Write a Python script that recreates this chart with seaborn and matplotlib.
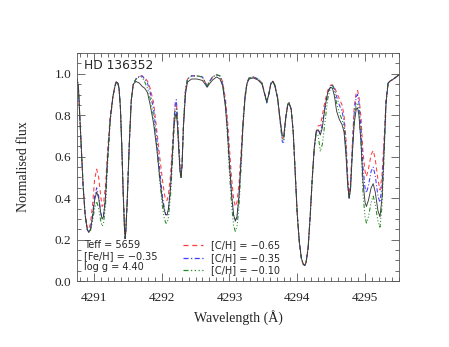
import numpy as np
import pandas as pd
import matplotlib
matplotlib.use('Agg')
import matplotlib.pyplot as plt
import seaborn as sns
from matplotlib.lines import Line2D
from matplotlib.ticker import MultipleLocator, FormatStrFormatter

# wavelength grid (Angstrom) and normalised fluxes
wave = [4290.75, 4290.77, 4290.79, 4290.81, 4290.84, 4290.87, 4290.90, 4290.925,
        4290.95, 4290.98, 4291.01, 4291.04, 4291.07, 4291.10, 4291.12, 4291.14,
        4291.17, 4291.20, 4291.24, 4291.28, 4291.31, 4291.33, 4291.35, 4291.37,
        4291.39, 4291.41, 4291.43, 4291.45, 4291.46, 4291.47, 4291.49,
        # 4291.5 - 4292.05
        4291.52, 4291.55, 4291.58, 4291.62, 4291.67, 4291.71, 4291.75, 4291.79,
        4291.83, 4291.88, 4291.93, 4291.97, 4292.01, 4292.04,
        # 4292.06 - 4292.38
        4292.06, 4292.08, 4292.10, 4292.13, 4292.16, 4292.18, 4292.20, 4292.215,
        4292.23, 4292.25, 4292.27, 4292.285, 4292.30, 4292.32, 4292.35, 4292.38,
        # plateau
        4292.44, 4292.52, 4292.60, 4292.64, 4292.67, 4292.70, 4292.75, 4292.81, 4292.86,
        # 4293.08 line
        4292.90, 4292.94, 4292.97, 4293.00, 4293.03, 4293.06, 4293.085, 4293.11,
        4293.14, 4293.17, 4293.20, 4293.23, 4293.26, 4293.29,
        # 4293.35 - 4293.88
        4293.35, 4293.42, 4293.48, 4293.52, 4293.55, 4293.58, 4293.61, 4293.64,
        4293.67, 4293.71, 4293.75, 4293.78, 4293.80, 4293.83, 4293.86, 4293.88,
        # deep line 4294.11
        4293.91, 4293.94, 4293.97, 4294.00, 4294.03, 4294.06, 4294.09, 4294.11,
        4294.13, 4294.16, 4294.19, 4294.22, 4294.25, 4294.28,
        # 4294.31 - 4294.69
        4294.31, 4294.34, 4294.37, 4294.41, 4294.45, 4294.49, 4294.52, 4294.55,
        4294.58, 4294.62, 4294.66, 4294.69,
        # 4294.77 line
        4294.72, 4294.745, 4294.765, 4294.785, 4294.81, 4294.84, 4294.87, 4294.89,
        4294.91, 4294.94,
        # 4295 blend
        4294.97, 4295.00, 4295.02, 4295.05, 4295.09, 4295.12, 4295.15, 4295.19,
        4295.22, 4295.25, 4295.28, 4295.31, 4295.34, 4295.37, 4295.42, 4295.50]

obs = [0.975, 0.94, 0.80, 0.66, 0.46, 0.32, 0.25, 0.235,
       0.25, 0.31, 0.39, 0.43, 0.40, 0.33, 0.30, 0.31,
       0.40, 0.585, 0.78, 0.89, 0.94, 0.96, 0.958, 0.93,
       0.84, 0.66, 0.44, 0.26, 0.205, 0.24, 0.38,
       0.65, 0.87, 0.95, 0.963, 0.955, 0.94, 0.93, 0.91,
       0.85, 0.76, 0.63, 0.50, 0.39, 0.34,
       0.32, 0.32, 0.35, 0.45, 0.62, 0.74, 0.80, 0.81,
       0.76, 0.64, 0.53, 0.50, 0.56, 0.74, 0.90, 0.96,
       0.975, 0.975, 0.968, 0.95, 0.935, 0.95, 0.97, 0.985, 0.975,
       0.94, 0.84, 0.72, 0.56, 0.42, 0.32, 0.29, 0.31,
       0.41, 0.58, 0.76, 0.89, 0.955, 0.975,
       0.98, 0.97, 0.95, 0.90, 0.867, 0.90, 0.95, 0.963,
       0.94, 0.88, 0.77, 0.70, 0.70, 0.79, 0.85, 0.855,
       0.83, 0.72, 0.52, 0.32, 0.19, 0.11, 0.08, 0.075,
       0.09, 0.16, 0.31, 0.49, 0.64, 0.725,
       0.73, 0.705, 0.74, 0.84, 0.91, 0.935, 0.93, 0.89,
       0.82, 0.78, 0.755, 0.72,
       0.60, 0.46, 0.40, 0.44, 0.60, 0.76, 0.83, 0.835,
       0.80, 0.67,
       0.48, 0.38, 0.36, 0.39, 0.45, 0.47, 0.43, 0.34,
       0.31, 0.40, 0.62, 0.86, 0.955, 0.965, 0.975, 0.995]

ch_065 = [0.975, 0.94, 0.80, 0.66, 0.46, 0.32, 0.26, 0.25,
          0.28, 0.37, 0.49, 0.54, 0.50, 0.41, 0.36, 0.37,
          0.46, 0.62, 0.80, 0.89, 0.945, 0.965, 0.96, 0.93,
          0.84, 0.66, 0.44, 0.26, 0.205, 0.24, 0.38,
          0.65, 0.87, 0.95, 0.975, 0.988, 0.99, 0.98, 0.965,
          0.93, 0.86, 0.72, 0.60, 0.49, 0.42,
          0.39, 0.39, 0.42, 0.51, 0.66, 0.78, 0.85, 0.86,
          0.80, 0.67, 0.55, 0.50, 0.56, 0.75, 0.92, 0.975,
          0.99, 0.99, 0.985, 0.96, 0.94, 0.96, 0.985, 0.995, 0.99,
          0.96, 0.88, 0.78, 0.64, 0.50, 0.40, 0.36, 0.38,
          0.47, 0.62, 0.78, 0.90, 0.96, 0.98,
          0.985, 0.975, 0.955, 0.905, 0.867, 0.905, 0.955, 0.965,
          0.945, 0.885, 0.77, 0.69, 0.69, 0.79, 0.855, 0.86,
          0.83, 0.72, 0.52, 0.32, 0.19, 0.11, 0.08, 0.075,
          0.09, 0.16, 0.31, 0.49, 0.64, 0.72,
          0.75, 0.75, 0.80, 0.87, 0.92, 0.945, 0.947, 0.935,
          0.91, 0.88, 0.85, 0.80,
          0.68, 0.50, 0.42, 0.47, 0.65, 0.84, 0.91, 0.92,
          0.89, 0.79,
          0.62, 0.53, 0.505, 0.54, 0.61, 0.63, 0.59, 0.49,
          0.44, 0.51, 0.68, 0.88, 0.955, 0.965, 0.975, 0.995]

ch_035 = [0.975, 0.94, 0.80, 0.66, 0.46, 0.32, 0.25, 0.235,
          0.255, 0.32, 0.41, 0.45, 0.41, 0.33, 0.30, 0.31,
          0.40, 0.59, 0.78, 0.89, 0.94, 0.96, 0.958, 0.93,
          0.84, 0.66, 0.44, 0.26, 0.205, 0.24, 0.38,
          0.65, 0.87, 0.95, 0.975, 0.988, 0.99, 0.975, 0.955,
          0.91, 0.83, 0.68, 0.54, 0.41, 0.35,
          0.32, 0.32, 0.35, 0.46, 0.63, 0.77, 0.86, 0.875,
          0.81, 0.67, 0.54, 0.50, 0.56, 0.75, 0.92, 0.975,
          0.99, 0.99, 0.985, 0.96, 0.94, 0.96, 0.985, 0.995, 0.99,
          0.95, 0.86, 0.74, 0.58, 0.43, 0.32, 0.29, 0.31,
          0.41, 0.58, 0.76, 0.89, 0.96, 0.98,
          0.985, 0.975, 0.955, 0.90, 0.86, 0.90, 0.955, 0.965,
          0.945, 0.885, 0.76, 0.67, 0.67, 0.785, 0.855, 0.86,
          0.83, 0.72, 0.52, 0.32, 0.19, 0.11, 0.08, 0.075,
          0.09, 0.16, 0.31, 0.49, 0.64, 0.72,
          0.73, 0.71, 0.76, 0.84, 0.91, 0.94, 0.947, 0.925,
          0.89, 0.85, 0.82, 0.77,
          0.64, 0.48, 0.40, 0.45, 0.62, 0.81, 0.89, 0.90,
          0.86, 0.74,
          0.55, 0.45, 0.426, 0.46, 0.53, 0.55, 0.51, 0.41,
          0.38, 0.46, 0.65, 0.87, 0.955, 0.965, 0.975, 0.995]

ch_010 = [0.975, 0.94, 0.80, 0.66, 0.46, 0.32, 0.25, 0.235,
          0.245, 0.29, 0.35, 0.385, 0.35, 0.29, 0.265, 0.275,
          0.36, 0.55, 0.77, 0.89, 0.94, 0.96, 0.958, 0.93,
          0.84, 0.66, 0.44, 0.26, 0.205, 0.24, 0.38,
          0.65, 0.87, 0.95, 0.975, 0.985, 0.985, 0.96, 0.93,
          0.88, 0.79, 0.64, 0.49, 0.36, 0.30,
          0.28, 0.28, 0.31, 0.41, 0.58, 0.72, 0.81, 0.83,
          0.77, 0.64, 0.52, 0.50, 0.56, 0.75, 0.92, 0.975,
          0.99, 0.99, 0.985, 0.96, 0.94, 0.96, 0.985, 0.995, 0.99,
          0.95, 0.85, 0.70, 0.52, 0.37, 0.27, 0.24, 0.26,
          0.36, 0.54, 0.74, 0.88, 0.955, 0.98,
          0.985, 0.975, 0.955, 0.90, 0.86, 0.90, 0.955, 0.965,
          0.945, 0.885, 0.76, 0.68, 0.68, 0.785, 0.855, 0.86,
          0.83, 0.72, 0.52, 0.32, 0.19, 0.11, 0.08, 0.075,
          0.09, 0.16, 0.31, 0.49, 0.64, 0.72,
          0.70, 0.625, 0.66, 0.77, 0.88, 0.93, 0.945, 0.91,
          0.86, 0.81, 0.78, 0.74,
          0.62, 0.46, 0.40, 0.44, 0.60, 0.78, 0.85, 0.86,
          0.81, 0.67,
          0.42, 0.31, 0.28, 0.31, 0.38, 0.41, 0.37, 0.29,
          0.26, 0.36, 0.59, 0.85, 0.955, 0.965, 0.975, 0.995]

model_labels = ['[C/H] = \u22120.65', '[C/H] = \u22120.35', '[C/H] = \u22120.10']
model_colors = ['#ff3c3c', '#3c3cff', '#1f8a1f']
star_name = 'HD 136352'
params = ['Teff = 5659', '[Fe/H] = \u22120.35', 'log g = 4.40']

sns.set_style('ticks')
plt.rcParams['font.family'] = ['Liberation Serif', 'DejaVu Serif']

fig = plt.figure(figsize=(4.49, 3.47), dpi=100)
ax = fig.add_axes([0.1715, 0.19, 0.717, 0.657])

styles = [(0, (4, 3)), (0, (4, 2, 1, 2)), (0, (4, 2, 1, 2, 1, 2, 1, 2))]
for flux, col, ls in zip([ch_065, ch_035, ch_010], model_colors, styles):
    sns.lineplot(x=wave, y=flux, ax=ax, color=col, lw=0.75, linestyle=ls,
                 legend=False)
sns.lineplot(x=wave, y=obs, ax=ax, color='#3a3a3a', lw=0.65, legend=False)

ax.set_xlim(4290.75, 4295.5)
ax.set_ylim(0, 1.1)
ax.xaxis.set_major_locator(MultipleLocator(1))
ax.xaxis.set_minor_locator(MultipleLocator(0.1))
ax.yaxis.set_major_locator(MultipleLocator(0.2))
ax.yaxis.set_minor_locator(MultipleLocator(0.05))
ax.yaxis.set_major_formatter(FormatStrFormatter('%.1f'))
ax.tick_params(which='both', direction='in', top=True, right=True,
               labelsize=9.5, width=0.6, color='#555555')
ax.tick_params(which='major', length=6)
ax.tick_params(which='minor', length=3)
ax.tick_params(axis='x', which='major', pad=8)
ax.tick_params(axis='y', which='major', pad=4)
for s in ax.spines.values():
    s.set_linewidth(0.6)
    s.set_color('#555555')

ax.set_xlabel('Wavelength (\u00c5)', fontsize=10, labelpad=4)
ax.set_ylabel('Normalised flux', fontsize=10, labelpad=18)

ax.text(0.022, 0.975, star_name, transform=ax.transAxes, ha='left', va='top',
        family='DejaVu Sans', fontsize=8.8)
for i, p in enumerate(params):
    ax.text(0.022, 0.158 - i * 0.048, p, transform=ax.transAxes, ha='left',
            va='center', family='DejaVu Sans', fontsize=7)

handles = [Line2D([], [], color=c, lw=0.9, linestyle=ls)
           for c, ls in zip(model_colors, styles)]
ax.legend(handles, model_labels, loc='lower left', bbox_to_anchor=(0.328, 0.025),
          frameon=False, prop={'family': 'DejaVu Sans', 'size': 7},
          handlelength=2.1, handletextpad=0.8, labelspacing=0.25,
          borderpad=0, borderaxespad=0)

fig.savefig('out.png', dpi=100)
